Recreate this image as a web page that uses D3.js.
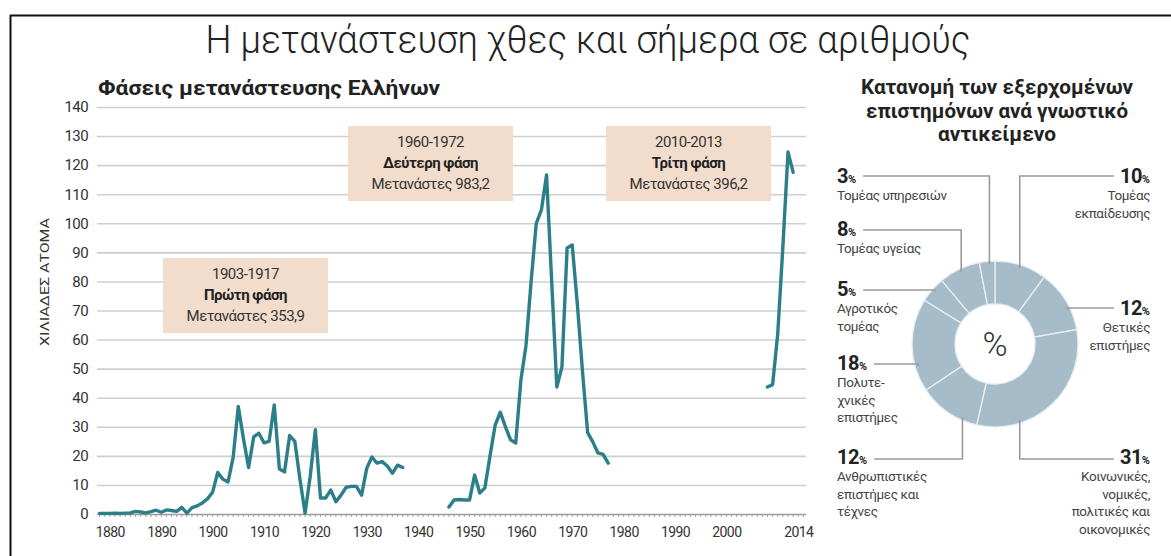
<!DOCTYPE html>
<html><head><meta charset="utf-8">
<script src="https://cdn.jsdelivr.net/npm/d3@7"></script>
<style>
body{margin:0;background:#fff}
svg{display:block}
text{font-family:Roboto,"Noto Sans",sans-serif}
</style>
</head><body>
<svg id="chart" width="1171" height="556"></svg>
<script>
// ---------- DATA ----------
const phase1Years = [1878,1879,1880,1881,1882,1883,1884,1885,1886,1887,1888,1889,1890,1891,1892,1893,1894,1895,1896,1897,1898,1899,1900,1901,1902,1903,1904,1905,1906,1907,1908,1909,1910,1911,1912,1913,1914,1915,1916,1917,1918,1919,1920,1921,1922,1923,1924,1925,1926,1927,1928,1929,1930,1931,1932,1933,1934,1935,1936,1937];
const phase1Values = [0.2,0.2,0.2,0.3,0.2,0.3,0.4,0.9,0.7,0.4,0.8,1.3,0.6,1.4,1.2,0.9,2.3,0.3,2.2,2.8,3.8,5.2,7.5,14.3,12,11,19.5,37,26,16,26.5,27.8,24.5,25,37.5,15.5,14.5,27,25,12,0.3,13,29,5.5,5.5,8.2,4.2,6.5,9.2,9.5,9.5,6.5,15.7,19.6,17.5,18,16.5,14,16.8,16];
const phase2Years = [1946,1947,1948,1949,1950,1951,1952,1953,1954,1955,1956,1957,1958,1959,1960,1961,1962,1963,1964,1965,1966,1967,1968,1969,1970,1971,1972,1973,1974,1975,1976,1977];
const phase2Values = [2.4,4.8,5,4.8,4.8,13.4,7.2,9,20,30.6,35,30,25.5,24.4,46,58,80,100,104.6,116.6,80,43.7,50.6,91.5,92.5,72,49,28,24.8,21,20.5,17.5];
const phase3Years = [2008,2009,2010,2011,2012,2013];
const phase3Values = [43.7,44.5,62,92,124.5,117.5];

const yTicks = [0,10,20,30,40,50,60,70,80,90,100,110,120,130,140];
const xTickYears = [1880,1890,1900,1910,1920,1930,1940,1950,1960,1970,1980,1990,2000,2014];

const phaseBoxYears = ["1903-1917","1960-1972","2010-2013"];
const phaseBoxNames = ["Πρώτη φάση","Δεύτερη φάση","Τρίτη φάση"];
const phaseBoxTotals = ["Μετανάστες 353,9","Μετανάστες 983,2","Μετανάστες 396,2"];

const donutTitle = ["Κατανομή των εξερχομένων","επιστημόνων ανά γνωστικό","αντικείμενο"];
const donutValues = [10,12,31,12,18,5,8,3];
const donutLabels = [
  ["Τομέας","εκπαίδευσης"],
  ["Θετικές","επιστήμες"],
  ["Κοινωνικές,","νομικές,","πολιτικές και","οικονομικές"],
  ["Ανθρωπιστικές","επιστήμες και","τέχνες"],
  ["Πολυτε-","χνικές","επιστήμες"],
  ["Αγροτικός","τομέας"],
  ["Τομέας υγείας"],
  ["Τομέας υπηρεσιών"]
];

// ---------- LAYOUT ----------
const W = 1171, H = 556;
const svg = d3.select("#chart");
const teal = "#2c7e89";
const boxFill = "#f2ddcc";
const donutFill = "#a6bdc9";

// frame
svg.append("line").attr("x1",10).attr("x2",W).attr("y1",15.5).attr("y2",15.5).attr("stroke","#111").attr("stroke-width",2);
svg.append("line").attr("x1",10.5).attr("x2",10.5).attr("y1",15).attr("y2",H).attr("stroke","#111").attr("stroke-width",2);

// title
svg.append("text").attr("x",588).attr("y",53).attr("text-anchor","middle")
  .attr("font-size",38).attr("font-weight",300).attr("fill","#222")
  .attr("textLength",765).attr("lengthAdjust","spacingAndGlyphs")
  .text("Η μετανάστευση χθες και σήμερα σε αριθμούς");

svg.append("text").attr("x",98).attr("y",95).attr("font-size",20).attr("font-weight",700).attr("fill","#222")
  .attr("textLength",342).attr("lengthAdjust","spacingAndGlyphs")
  .text("Φάσεις μετανάστευσης Ελλήνων");

// scales
const x = d3.scaleLinear().domain([1877.5, 2015.5]).range([97, 806]);
const y = d3.scaleLinear().domain([0, 140]).range([514, 107]);

// grid + y axis
const yAxis = d3.axisLeft(y).tickValues(yTicks).tickSize(-(806-97)).tickPadding(9).tickFormat(d=>d);
const gy = svg.append("g").attr("transform","translate(97,0)").call(yAxis);
gy.select(".domain").remove();
gy.selectAll(".tick line").attr("stroke","#cfcfcf").attr("stroke-width",1.6);
gy.selectAll(".tick").filter(d=>d===0).select("line").attr("stroke","#9a9a9a").attr("stroke-width",1.6);
gy.selectAll("text").attr("font-size",15).attr("fill","#333").attr("font-family","Roboto,sans-serif").attr("letter-spacing","-0.6");

// minor year ticks on baseline
const minorYears = d3.range(1878, 2016);
svg.append("g").selectAll("line").data(minorYears).join("line")
  .attr("x1",d=>x(d)).attr("x2",d=>x(d)).attr("y1",y(0)).attr("y2",y(0)+3)
  .attr("stroke","#a0a0a0").attr("stroke-width",1);

// x axis labels
const xAxis = d3.axisBottom(x).tickValues(xTickYears).tickSize(0).tickPadding(13).tickFormat(d=>d);
const gx = svg.append("g").attr("transform",`translate(0,${y(0)})`).call(xAxis);
gx.select(".domain").remove();
gx.selectAll("text").attr("font-size",14).attr("fill","#333").attr("font-family","Roboto,sans-serif").attr("letter-spacing","-0.6");

// y axis title
svg.append("text").attr("transform","translate(49,282) rotate(-90)").attr("text-anchor","middle")
  .attr("font-size",13).attr("fill","#333").attr("textLength",128).attr("lengthAdjust","spacingAndGlyphs")
  .text("ΧΙΛΙΑΔΕΣ ΑΤΟΜΑ");

// lines
const line = d3.line().x(d=>x(d[0])).y(d=>y(d[1]));
[[phase1Years,phase1Values],[phase2Years,phase2Values],[phase3Years,phase3Values]].forEach(([ys,vs])=>{
  svg.append("path").datum(ys.map((yr,i)=>[yr,vs[i]]))
    .attr("d",line).attr("fill","none").attr("stroke",teal).attr("stroke-width",3.4)
    .attr("stroke-linejoin","round").attr("stroke-linecap","round");
});

// phase boxes
const boxes = [{x:163,y:258},{x:348,y:126},{x:606,y:126}];
boxes.forEach((b,i)=>{
  const g = svg.append("g");
  g.append("rect").attr("x",b.x).attr("y",b.y).attr("width",165).attr("height",75).attr("fill",boxFill);
  const bx = b.x+82.5;
  g.append("text").attr("x",bx).attr("y",b.y+21).attr("text-anchor","middle").attr("font-size",15).attr("fill","#333").attr("letter-spacing","-0.5").text(phaseBoxYears[i]);
  g.append("text").attr("x",bx).attr("y",b.y+42).attr("text-anchor","middle").attr("font-size",15).attr("font-weight",700).attr("fill","#222").attr("letter-spacing","-0.5").text(phaseBoxNames[i]);
  g.append("text").attr("x",bx).attr("y",b.y+63).attr("text-anchor","middle").attr("font-size",15).attr("fill","#333").attr("letter-spacing","-0.5").text(phaseBoxTotals[i]);
});

// donut title
const titleWidths = [272, 262, 118];
donutTitle.forEach((t,i)=>{
  svg.append("text").attr("x",997).attr("y",94+i*23.5).attr("text-anchor","middle")
    .attr("font-size",20).attr("font-weight",700).attr("fill","#222")
    .attr("textLength",titleWidths[i]).attr("lengthAdjust","spacingAndGlyphs").text(t);
});

// donut
const cx = 995, cy = 344, rOut = 83, rIn = 40;
const pie = d3.pie().sort(null).value(d=>d);
const arcs = pie(donutValues);
const arc = d3.arc().innerRadius(rIn).outerRadius(rOut);
const dg = svg.append("g").attr("transform",`translate(${cx},${cy})`);
dg.selectAll("path").data(arcs).join("path").attr("d",arc).attr("fill",donutFill).attr("stroke","#e8eef1").attr("stroke-width",1.3);
svg.append("text").attr("x",cx).attr("y",cy+12).attr("text-anchor","middle").attr("font-size",34).attr("font-weight",300).attr("fill","#333").text("%");

// donut labels layout
const labelLayout = [
  {side:"right", pctY:183, leaderY:176, angle:18},
  {side:"right", pctY:315, leaderY:308, angle:63},
  {side:"right", pctY:464, leaderY:459, angle:162},
  {side:"left",  pctY:464, leaderY:459, angle:204},
  {side:"left",  pctY:370, leaderY:364, angle:254},
  {side:"left",  pctY:296, leaderY:290, angle:311},
  {side:"left",  pctY:236, leaderY:230, angle:335},
  {side:"left",  pctY:183, leaderY:176, angle:356}
];
const leftX = 837, rightX = 1150, rAnchor = 80;
labelLayout.forEach((L,i)=>{
  const a = L.angle*Math.PI/180;
  const ax = cx + rAnchor*Math.sin(a), ay = cy - rAnchor*Math.cos(a);
  const t = svg.append("text").attr("y",L.pctY).attr("font-weight",700).attr("fill","#222")
    .attr("x", L.side==="left"?leftX:rightX).attr("text-anchor", L.side==="left"?"start":"end");
  t.append("tspan").attr("font-size",20).attr("letter-spacing","-0.5").text(donutValues[i]);
  t.append("tspan").attr("font-size",11).text("%");
  const w = t.node().getComputedTextLength();
  const lx = L.side==="left" ? leftX + w + 7 : rightX - w - 6;
  svg.append("path").attr("d",`M${lx},${L.leaderY}H${ax}V${ay}`)
    .attr("fill","none").attr("stroke","#9a9a9a").attr("stroke-width",1.6);
  donutLabels[i].forEach((s,j)=>{
    svg.append("text").attr("x", L.side==="left"?leftX:rightX).attr("y",L.pctY+17+j*17.5)
      .attr("text-anchor", L.side==="left"?"start":"end").attr("font-size",13.5).attr("fill","#444")
      .attr("letter-spacing","-0.4").text(s);
  });
});
</script>
</body></html>
